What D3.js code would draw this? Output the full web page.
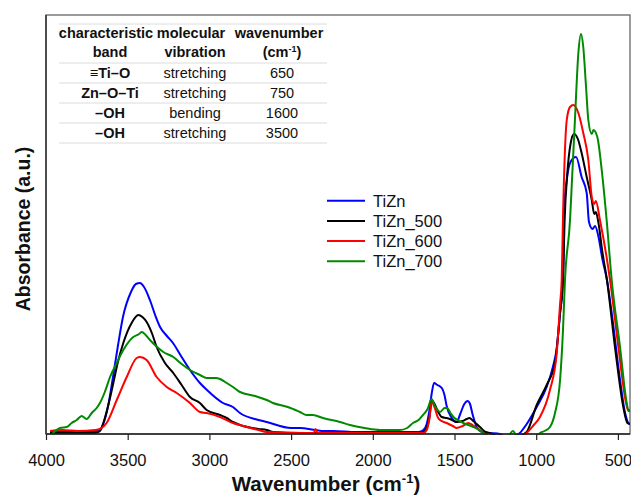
<!DOCTYPE html>
<html lang="en">
<head>
<meta charset="UTF-8">
<title>FTIR TiZn</title>
<script src="https://d3js.org/d3.v7.min.js"></script>
<style>
  body { margin: 0; background: #fff; }
  svg { font-family: "Liberation Sans", Arial, sans-serif; }
</style>
</head>
<body>
<svg width="631" height="497"></svg>
<script>
// x tick labels (wavenumber, cm-1)
var xTicks = [4000, 3500, 3000, 2500, 2000, 1500, 1000, 500];

var seriesNames = ['TiZn', 'TiZn_500', 'TiZn_600', 'TiZn_700'];
var seriesColors = ['#0000ff', '#000000', '#ff0000', '#008a00'];

// [wavenumber, absorbance]
var tizn = [[3975,0.02],[3850,0.02],[3720,0.02],[3690,0.03],[3670,0.04],[3650,0.1],[3620,0.28],[3590,0.57],[3560,0.88],[3529,1.17],[3480,1.42],[3450,1.5],[3425,1.51],[3400,1.47],[3364,1.34],[3330,1.18],[3302,1.07],[3260,0.98],[3223,0.91],[3170,0.77],[3119,0.64],[3058,0.51],[3015,0.44],[2917,0.31],[2856,0.27],[2813,0.21],[2700,0.14],[2649,0.12],[2500,0.06],[2446,0.06],[2350,0.04],[2300,0.03],[2244,0.03],[2100,0.02],[1900,0.02],[1720,0.02],[1690,0.04],[1670,0.1],[1655,0.22],[1640,0.4],[1625,0.51],[1605,0.49],[1578,0.46],[1560,0.38],[1548,0.28],[1520,0.17],[1487,0.12],[1465,0.2],[1440,0.3],[1420,0.33],[1405,0.3],[1390,0.2],[1364,0.07],[1330,0.02],[1283,0.01],[1222,0],[1180,-0.05],[1130,-0.03],[1100,0.01],[1058,0.1],[997,0.27],[936,0.47],[898,0.67],[875,0.85],[854,1.21],[836,1.54],[828,2.27],[813,2.54],[790,2.72],[756,2.77],[722,2.57],[691,2.41],[677,2.12],[655,2.05],[640,2.08],[620,1.98],[595,1.75],[567,1.54],[538,1.21],[487,0.54],[456,0.21],[436,0.11],[426,0.1]];

var tizn500 = [[3975,0.01],[3850,0.01],[3700,0.01],[3670,0.03],[3649,0.11],[3620,0.28],[3588,0.51],[3560,0.72],[3527,0.91],[3476,1.11],[3435,1.19],[3410,1.17],[3384,1.12],[3350,1.0],[3323,0.87],[3272,0.71],[3221,0.61],[3170,0.49],[3119,0.37],[3058,0.31],[3017,0.24],[2935,0.19],[2894,0.16],[2856,0.12],[2813,0.09],[2700,0.05],[2649,0.04],[2609,0.02],[2446,0.01],[2200,0.01],[1900,0.01],[1720,0.01],[1690,0.02],[1670,0.06],[1655,0.15],[1638,0.33],[1625,0.31],[1600,0.22],[1578,0.17],[1548,0.16],[1528,0.15],[1487,0.12],[1450,0.13],[1425,0.15],[1409,0.16],[1385,0.13],[1344,0.07],[1310,0.02],[1283,0.01],[1230,-0.03],[1150,-0.05],[1100,-0.02],[1058,0.02],[997,0.29],[936,0.49],[885,0.71],[854,1.21],[836,1.54],[826,2.14],[810,2.6],[790,2.9],[769,3.0],[745,2.95],[722,2.81],[691,2.57],[660,2.34],[645,2.2],[635,2.22],[620,2.12],[595,1.82],[567,1.54],[518,0.87],[467,0.27],[442,0.11],[426,0.1]];

var tizn600 = [[3975,0.03],[3900,0.04],[3800,0.03],[3700,0.04],[3670,0.05],[3629,0.11],[3567,0.34],[3506,0.57],[3445,0.76],[3425,0.77],[3384,0.74],[3323,0.57],[3261,0.47],[3200,0.41],[3119,0.31],[3058,0.22],[3017,0.21],[2935,0.17],[2856,0.11],[2813,0.09],[2700,0.04],[2649,0.02],[2405,0.01],[2362,0.01],[2350,0.05],[2338,0.01],[2100,0.01],[1900,0.01],[1720,0.01],[1690,0.01],[1670,0.04],[1655,0.14],[1640,0.32],[1625,0.28],[1600,0.16],[1589,0.14],[1548,0.11],[1510,0.08],[1487,0.06],[1450,0.08],[1416,0.11],[1390,0.09],[1364,0.06],[1330,0.02],[1303,-0.01],[1250,-0.05],[1150,-0.08],[1058,0.01],[1020,0.08],[977,0.17],[916,0.44],[875,0.8],[854,1.3],[844,1.54],[836,2.17],[813,3.14],[793,3.27],[773,3.29],[742,3.21],[712,3.01],[681,2.74],[660,2.37],[645,2.3],[635,2.33],[610,2.14],[548,1.54],[497,0.87],[450,0.31],[436,0.23],[426,0.23]];

var tizn700 = [[3963,0],[3914,0.06],[3873,0.07],[3843,0.11],[3812,0.14],[3782,0.18],[3751,0.15],[3720,0.21],[3690,0.26],[3670,0.31],[3640,0.42],[3608,0.57],[3570,0.7],[3527,0.84],[3466,0.97],[3430,1.0],[3414,1.02],[3390,0.99],[3364,0.94],[3320,0.87],[3282,0.82],[3221,0.77],[3170,0.7],[3119,0.64],[3058,0.59],[3017,0.56],[2960,0.56],[2935,0.55],[2894,0.51],[2856,0.47],[2813,0.42],[2720,0.38],[2649,0.34],[2611,0.31],[2520,0.27],[2446,0.22],[2405,0.19],[2366,0.19],[2305,0.16],[2201,0.12],[2140,0.09],[2050,0.06],[1956,0.04],[1900,0.04],[1834,0.04],[1790,0.06],[1754,0.11],[1720,0.14],[1693,0.19],[1665,0.25],[1640,0.35],[1620,0.28],[1589,0.22],[1560,0.26],[1548,0.26],[1520,0.2],[1507,0.17],[1470,0.13],[1446,0.11],[1385,0.07],[1350,0.04],[1324,0.01],[1283,-0.03],[1200,-0.05],[1170,-0.02],[1142,0.03],[1120,-0.02],[1050,-0.05],[1000,-0.02],[977,0.01],[950,0.03],[916,0.07],[885,0.21],[854,0.54],[836,1.04],[824,1.54],[793,2.14],[783,2.47],[763,3.14],[742,3.81],[726,4.0],[712,3.87],[695,3.47],[681,3.14],[660,3.0],[650,3.04],[626,2.97],[599,2.64],[569,2.14],[538,1.54],[487,0.87],[446,0.31],[436,0.24],[426,0.24]];

var allSeries = [tizn, tizn500, tizn600, tizn700];

// table text
var tableHeader1 = ['characteristic', 'molecular', 'wavenumber'];
var tableHeader2 = ['band', 'vibration', '(cm'];
var tableBands = ['\u2261Ti\u2013O', 'Zn\u2013O\u2013Ti', '\u2013OH', '\u2013OH'];
var tableVibrations = ['stretching', 'stretching', 'bending', 'stretching'];
var tableWavenumbers = ['650', '750', '1600', '3500'];

var svg = d3.select('svg');
var pLeft = 46, pRight = 630, pTop = 15, pBottom = 434;

var x = d3.scaleLinear().domain([4000, 426]).range([pLeft, pRight]);
var y = d3.scaleLinear().domain([0, 4.19]).range([pBottom, pTop]);

svg.append('clipPath').attr('id', 'clip')
    .append('rect')
    .attr('x', pLeft).attr('y', pTop)
    .attr('width', pRight - pLeft).attr('height', pBottom - pTop + 1);

// frame
svg.append('rect')
    .attr('x', pLeft).attr('y', pTop)
    .attr('width', pRight - pLeft).attr('height', pBottom - pTop)
    .attr('fill', 'none')
    .attr('stroke', '#666')
    .attr('stroke-width', 1.3);

// lines
var line = d3.line()
    .x(function (d) { return x(d[0]); })
    .y(function (d) { return y(d[1]); })
    .curve(d3.curveMonotoneX);

svg.append('g').attr('clip-path', 'url(#clip)')
    .selectAll('path')
    .data(allSeries)
    .enter()
    .append('path')
    .attr('d', line)
    .attr('fill', 'none')
    .attr('stroke', function (d, i) { return seriesColors[i]; })
    .attr('stroke-width', 2)
    .attr('stroke-linejoin', 'round');

// axes
var axisX = d3.axisBottom(x).tickValues(xTicks).tickSize(6).tickPadding(14).tickFormat(d3.format('d'));
var gx = svg.append('g')
    .attr('transform', 'translate(0,' + pBottom + ')')
    .call(axisX);
gx.select('.domain').remove();
gx.selectAll('.tick line').attr('stroke', '#222').attr('stroke-width', 1.2);
gx.selectAll('.tick text')
    .attr('font-family', '"Liberation Sans", Arial, sans-serif')
    .attr('font-size', 16.5)
    .attr('fill', '#111');

svg.append('line')
    .attr('x1', pLeft).attr('x2', pRight)
    .attr('y1', pBottom).attr('y2', pBottom)
    .attr('stroke', '#222').attr('stroke-width', 1.5);
svg.append('line')
    .attr('x1', pLeft).attr('x2', pLeft)
    .attr('y1', pTop).attr('y2', pBottom)
    .attr('stroke', '#333').attr('stroke-width', 1.5);

// axis titles
var xt = svg.append('text')
    .attr('x', 326).attr('y', 491)
    .attr('text-anchor', 'middle')
    .attr('font-size', 20.5)
    .attr('font-weight', 'bold')
    .attr('fill', '#111');
xt.append('tspan').text('Wavenumber (cm');
xt.append('tspan').attr('dy', -8).attr('font-size', 13).text('-1');
xt.append('tspan').attr('dy', 8).text(')');

svg.append('text')
    .attr('transform', 'translate(30,229) rotate(-90)')
    .attr('text-anchor', 'middle')
    .attr('font-size', 19.5)
    .attr('font-weight', 'bold')
    .attr('fill', '#111')
    .text('Absorbance (a.u.)');

// table
var colX = [110, 195, 282];
var rowLines = [24, 63, 83, 103, 123, 143];
svg.selectAll('.rowline')
    .data(rowLines)
    .enter()
    .append('line')
    .attr('class', 'rowline')
    .attr('x1', 59).attr('x2', 327)
    .attr('y1', function (d) { return d; })
    .attr('y2', function (d) { return d; })
    .attr('stroke', '#dcdcdc')
    .attr('stroke-width', 1);

var table = svg.append('g').attr('font-size', 14.5).attr('text-anchor', 'middle').attr('fill', '#111');
table.selectAll('.h1')
    .data(tableHeader1)
    .enter()
    .append('text')
    .attr('x', function (d, i) { return [106, 191, 279][i]; })
    .attr('y', 38)
    .attr('font-weight', 'bold')
    .text(function (d) { return d; });

tableHeader2.forEach(function (d, i) {
    var t = table.append('text')
        .attr('x', colX[i]).attr('y', 57)
        .attr('font-weight', 'bold');
    t.append('tspan').text(d);
    if (i === 2) {
        t.append('tspan').attr('dy', -5).attr('font-size', 9).text('-1');
        t.append('tspan').attr('dy', 5).text(')');
    }
});

var rowY = [78, 98, 118, 138];
tableBands.forEach(function (d, i) {
    table.append('text').attr('x', colX[0]).attr('y', rowY[i]).attr('font-weight', 'bold').text(d);
    table.append('text').attr('x', colX[1]).attr('y', rowY[i]).text(tableVibrations[i]);
    table.append('text').attr('x', colX[2]).attr('y', rowY[i]).text(tableWavenumbers[i]);
});

// legend
var legend = svg.append('g');
seriesNames.forEach(function (name, i) {
    var ly = 200.7 + i * 20.2;
    legend.append('line')
        .attr('x1', 327).attr('x2', 365)
        .attr('y1', ly).attr('y2', ly)
        .attr('stroke', seriesColors[i])
        .attr('stroke-width', 2);
    legend.append('text')
        .attr('x', 373).attr('y', ly + 6)
        .attr('font-size', 16.5)
        .attr('fill', '#111')
        .text(name);
});
</script>
</body>
</html>
